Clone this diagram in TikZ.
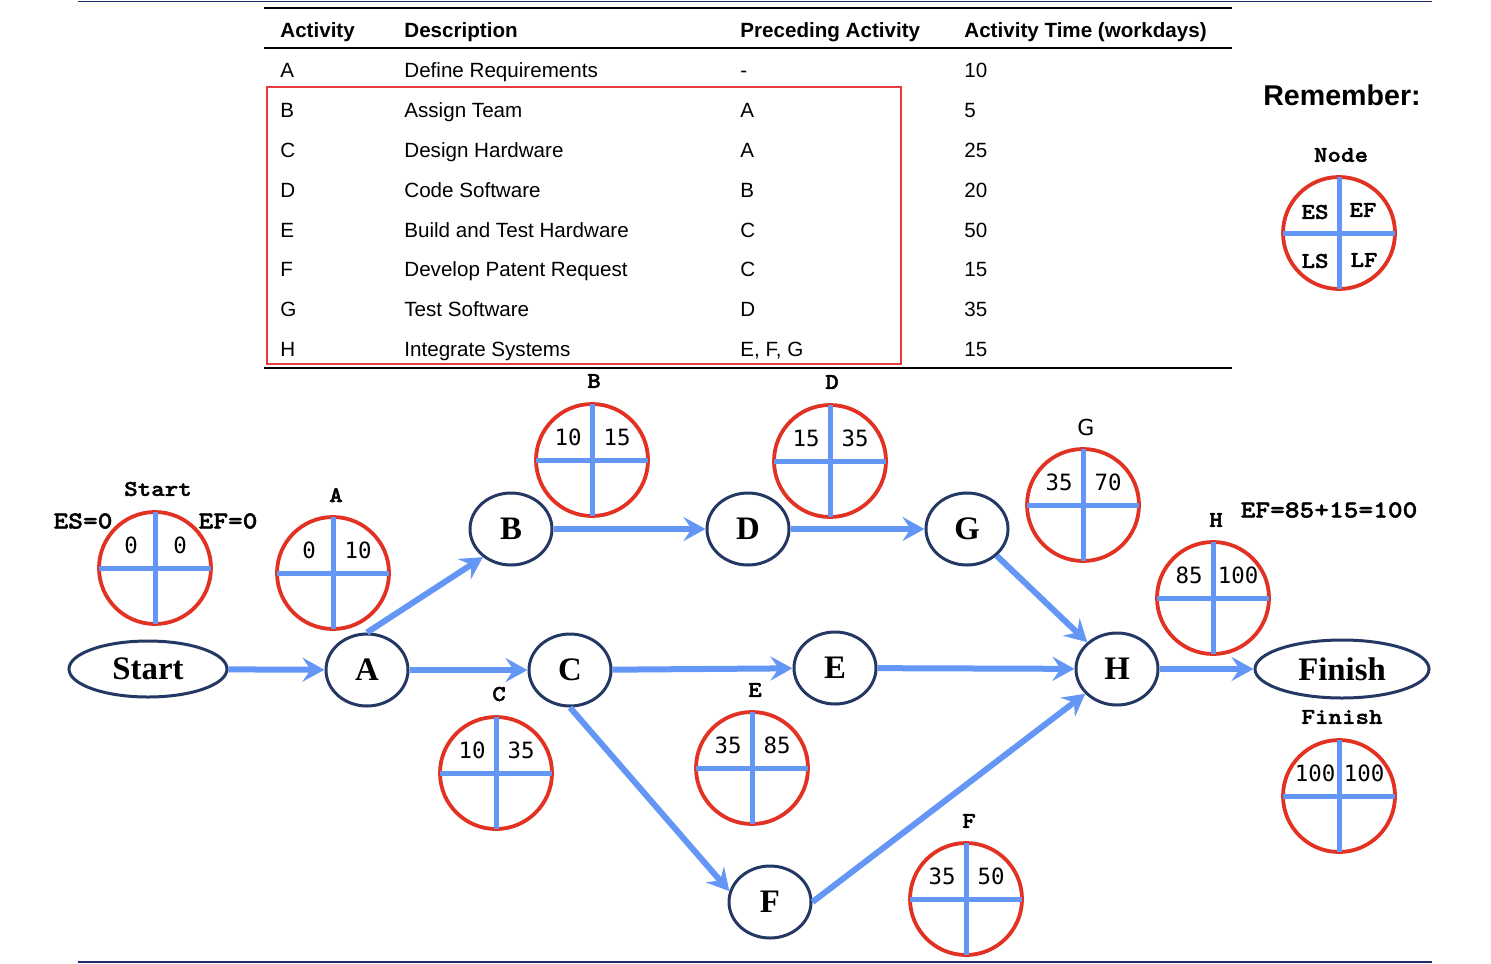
\documentclass[tikz,border=0pt]{standalone}
\usepackage{fontspec}
\setmainfont{Liberation Sans}
\newfontfamily\nodefont{Liberation Serif}
\newfontfamily\courb{lmmonolt10-bold}[Extension=.otf, FakeStretch=1.14, FakeBold=1.6]
\newfontfamily\monon{DejaVu Sans Mono}
\newfontfamily\dvs{DejaVu Sans}
\usetikzlibrary{arrows.meta,shapes.geometric,calc}
\definecolor{navy}{RGB}{36,56,100}
\definecolor{cblue}{RGB}{100,150,245}
\definecolor{cred}{RGB}{225,50,35}
\definecolor{boxred}{RGB}{230,60,60}
\definecolor{rulenavy}{RGB}{30,40,110}
\tikzset{
  act/.style={ellipse, draw=navy, line width=1.5pt, minimum width=41pt, minimum height=36pt, inner sep=0pt, font=\nodefont\bfseries\fontsize{16.4}{18}\selectfont},
  term/.style={act, minimum width=79pt, minimum height=28pt},
  conn/.style={draw=cblue, line width=3pt, -{Stealth[length=11pt,width=12pt,inset=4pt]}},
  infoc/.style={circle, draw=cred, line width=1.9pt, minimum size=56pt, inner sep=0pt, outer sep=0pt},
  crossl/.style={draw=cblue, line width=2.5pt},
  num/.style={font=\monon\fontsize{11.2}{13}\selectfont, inner sep=0pt},
  clab/.style={font=\courb\fontsize{11.3}{13}\selectfont, inner sep=0pt},
  clabbig/.style={font=\courb\fontsize{12.3}{14}\selectfont, inner sep=0pt},
  tab/.style={font=\fontsize{10.3}{12}\selectfont, anchor=base west, inner sep=0pt},
  tabh/.style={font=\bfseries\fontsize{10.3}{12}\selectfont, anchor=base west, inner sep=0pt},
}
\newcommand\infocirc[5]{%
  \node[infoc] (#1) at (#2,#3) {};
  \draw[crossl] (#1.north) -- (#1.south) (#1.west) -- (#1.east);
  \node[num] at (#2-24,#3-23) {#4};
  \node[num] at (#2+25,#3-23) {#5};
}
\begin{document}
\begin{tikzpicture}[x=0.5pt,y=-0.5pt]
\useasboundingbox (0,0) rectangle (1491,963);
% page rules
\draw[rulenavy, line width=0.9pt] (78,1.5) -- (1432,1.5);
\draw[rulenavy, line width=0.9pt] (78,962) -- (1432,962);
% table
\draw[black, line width=1.3pt] (264,8) -- (1232,8);
\draw[black, line width=1pt] (264,48) -- (1232,48);
\draw[black, line width=1pt] (264,368) -- (1232,368);
\draw[boxred, line width=0.7pt] (267,87) rectangle (901,364);
\node[tabh] (h1) at (280,37.5) {Activity};
\node[tabh] (h2) at (404,37.5) {Description};
\node[tabh] (h3) at (740,37.5) {Preceding Activity};
\node[tabh] (h4) at (964,37.5) {Activity Time (workdays)};
\foreach \y/\a/\d/\p/\t [count=\i] in {
  70/A/Define Requirements/-/10,
  110/B/Assign Team/A/5,
  150/C/Design Hardware/A/25,
  190/D/Code Software/B/20,
  230/E/Build and Test Hardware/C/50,
  269/F/Develop Patent Request/C/15,
  309/G/Test Software/D/35,
  349/H/Integrate Systems/{E, F, G}/15}{
  \node[tab] (ra\i) at (280,\y+7.5) {\a};
  \node[tab] (rd\i) at (404,\y+7.5) {\d};
  \node[tab] (rp\i) at (740,\y+7.5) {\p};
  \node[tab] (rt\i) at (964,\y+7.5) {\t};
}
% remember
\node[font=\bfseries\fontsize{14.3}{16}\selectfont, inner sep=0pt] (rem) at (1342,95) {Remember:};
\node[clab] (nodelab) at (1341,155) {Node};
\node[infoc] (remc) at (1339,233) {};
\draw[crossl] (remc.north) -- (remc.south) (remc.west) -- (remc.east);
\node[clab] (es) at (1315,212) {ES};
\node[clab] (ef) at (1363,210) {EF};
\node[clab] (ls) at (1315,261) {LS};
\node[clab] (lf) at (1364,260) {LF};
% info circles
\infocirc{iStart}{155}{568}{0}{0}
\infocirc{iA}{333}{573}{0}{10}
\infocirc{iB}{592}{460}{10}{15}
\infocirc{iD}{830}{461}{15}{35}
\infocirc{iG}{1083}{505}{35}{70}
\infocirc{iH}{1213}{598}{85}{100}
\infocirc{iC}{496}{773}{10}{35}
\infocirc{iE}{752}{768}{35}{85}
\infocirc{iF}{966}{899}{35}{50}
\infocirc{iFin}{1339}{796}{100}{100}
% labels
\node[clab] (lStart) at (158,489) {Start};
\node[clab] (lA) at (336,495) {A};
\node[clab] (lB) at (594,381) {B};
\node[clab] (lD) at (832,382) {D};
\node[font=\dvs\fontsize{11}{13}\selectfont, inner sep=0pt] (lG) at (1086,427) {G};
\node[clab] (lH) at (1216,520) {H};
\node[clab] (lC) at (499,694) {C};
\node[clab] (lE) at (755,690) {E};
\node[clab] (lF) at (969,821) {F};
\node[clab] (lFin) at (1342,717) {Finish};
\node[clabbig] (les) at (83,521) {ES=0};
\node[clabbig] (lef) at (228,521) {EF=0};
\node[clabbig] (lefh) at (1329,510) {EF=85+15=100};
% activity nodes
\node[term] (start) at (148,669) {Start};
\node[act] (A) at (367,670) {A};
\node[act] (B) at (511,529) {B};
\node[act] (C) at (570,670) {C};
\node[act] (D) at (748,529) {D};
\node[act] (E) at (835,668) {E};
\node[act] (G) at (967,529) {G};
\node[act] (H) at (1117,669) {H};
\node[act] (F) at (770,902) {F};
\node[term, minimum width=87pt, minimum height=29pt] (finish) at (1342,669) {Finish};
% connectors
\draw[conn] (start) -- (A);
\draw[conn] (A.north) -- (B.225);
\draw[conn] (A) -- (C);
\draw[conn] (B) -- (D);
\draw[conn] (C) -- (E);
\draw[conn] (C.south) -- (F.165);
\draw[conn] (D) -- (G);
\draw[conn] (G.318) -- (H.138);
\draw[conn] (E) -- (H);
\draw[conn] (F.east) -- (H.218);
\draw[conn] (H) -- (finish);
\end{tikzpicture}
\end{document}
